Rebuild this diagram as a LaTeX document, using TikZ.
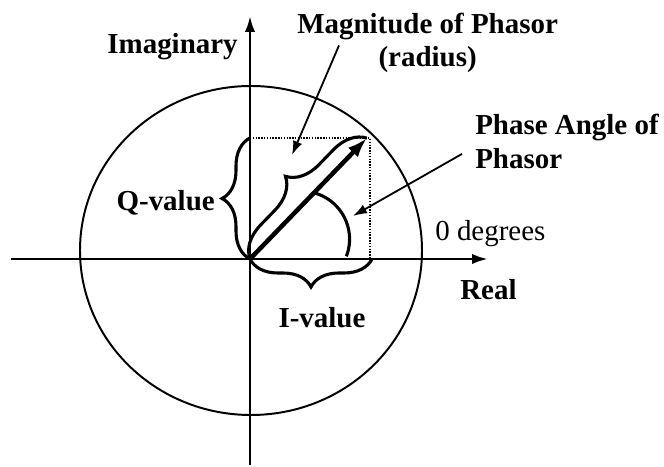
\documentclass[tikz,border=0pt]{standalone}
\usepackage{fontspec}
\setmainfont{Liberation Serif}
\usepackage{tikz}
\usetikzlibrary{arrows.meta, decorations.pathreplacing, positioning}

\begin{document}
\begin{tikzpicture}[>={Latex[length=4mm,width=2.6mm]},
    lbl/.style={font=\fontsize{20.6}{24.8}\selectfont\bfseries, inner sep=0pt},
    curly/.style={decorate, decoration={brace, amplitude=#1}, line width=2.2pt},
    thinarrow/.style={-{Latex[length=3.5mm,width=2.4mm]}, line width=1.3pt}]
    \useasboundingbox (-6.25,-5.2) rectangle (10.35,6.475);
    % 1. Truc thuc, truc ao
    \coordinate (O) at (0,0);
    \draw[->, line width=1.9pt] (-5.975,0) -- (5.95,0);
    \draw[->, line width=1.9pt] (0,-5.15) -- (0,6.075);
    % 2. Duong tron
    \draw[line width=1.4pt] (0.025,0.2125) ellipse [x radius=4.275, y radius=4.1125];
    % 3. Hinh chieu I, Q
    \coordinate (P) at (2.925,3.025);
    \draw[densely dotted, line width=1pt] (0,3.025) -- (3,3.025) -- (3,0);
    % 4. Phasor va cac dau ngoac
    \draw[-{Latex[length=5mm,width=3.4mm]}, line width=3.2pt] (O) -- (P);
    \draw[curly=0.8cm] (O) -- (P);
    \draw[curly=0.7cm] (O) -- (0,3.025);
    \draw[curly=0.7cm] (3.05,0) -- (O);
    \draw[line width=2.2pt] (1.6,1.655) arc[start angle=75, end angle=-21, radius=1.2];

    % 5. Nhan
    \node[lbl, anchor=east] (imag) at (-0.3,5.32) {Imaginary};
    \node[lbl] (mag1) at (4.44,5.82) {Magnitude of Phasor};
    \node[lbl, below=0.16cm of mag1] (mag2) {(radius)};
    \node[lbl, anchor=west] (phase1) at (5.625,3.28) {Phase Angle of};
    \node[lbl, below=0.165cm of phase1.south west, anchor=north west] (phase2) {Phasor};
    \node[font=\fontsize{20.6}{24.8}\selectfont, inner sep=0pt, anchor=west] (zero) at (4.625,0.625) {0 degrees};
    \node[lbl, anchor=west] (real) at (5.25,-0.775) {Real};
    \node[lbl, anchor=east] (qval) at (-0.875,1.41) {Q-value};
    \node[lbl] (ival) at (1.8,-1.475) {I-value};

    \coordinate (magtip) at (1.05,2.6);
    \coordinate (angtip) at (2.575,1.075);
    \draw[thinarrow] ([shift={(1.05,-0.14)}]mag1.south west) -- (magtip);
    \draw[thinarrow] ([shift={(-0.325,0.115)}]phase2.west) -- (angtip);
\end{tikzpicture}
\end{document}
